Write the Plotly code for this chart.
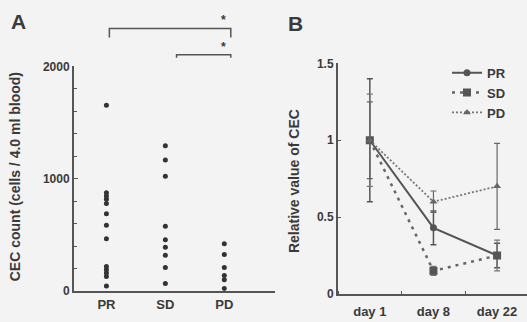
import plotly.graph_objects as go

# ---- Panel A data ----
groups_a = ["PR", "SD", "PD"]
pr_counts = [1654, 874, 846, 816, 779, 687, 586, 465, 219, 190, 162, 130, 46]
sd_counts = [1293, 1166, 1022, 577, 456, 390, 318, 210, 67]
pd_counts = [422, 326, 210, 139, 101, 23]

# ---- Panel B data ----
days = ["day 1", "day 8", "day 22"]
pr_rel = [1.0, 0.43, 0.25]
pr_err = [0.40, 0.11, 0.08]
sd_rel = [1.0, 0.15, 0.25]
sd_err = [0.30, 0.03, 0.10]
pd_rel = [1.0, 0.60, 0.70]
pd_err = [0.25, 0.07, 0.28]

BG = "#f3f3f3"
INK = "#3a3a3a"
LINE = "#555555"
FONT = "Liberation Sans"

W, H = 527, 322
def px(x):
    return x / W
def py(y):
    return 1 - y / H

fig = go.Figure()

# Panel A scatter
for i, vals in enumerate([pr_counts, sd_counts, pd_counts]):
    fig.add_trace(go.Scatter(
        x=[i + 1] * len(vals), y=vals, mode="markers",
        marker=dict(size=5, color="#333333"),
        xaxis="x", yaxis="y", showlegend=False, hoverinfo="y"))

# Panel B lines
xb = [1, 2, 3]
fig.add_trace(go.Scatter(
    x=xb, y=pr_rel, name="PR", mode="lines+markers",
    line=dict(color=LINE, width=2, dash="solid"),
    marker=dict(symbol="circle", size=7, color=LINE),
    error_y=dict(type="data", array=pr_err, color=LINE, thickness=1.5, width=3),
    xaxis="x2", yaxis="y2"))
fig.add_trace(go.Scatter(
    x=xb, y=sd_rel, name="SD", mode="lines+markers",
    line=dict(color="#666666", width=2.5, dash="3px,5px"),
    marker=dict(symbol="square", size=8, color="#555555"),
    error_y=dict(type="data", array=sd_err, color="#777777", thickness=1.2, width=3),
    xaxis="x2", yaxis="y2"))
fig.add_trace(go.Scatter(
    x=xb, y=pd_rel, name="PD", mode="lines+markers",
    line=dict(color="#777777", width=1.8, dash="2px,2px"),
    marker=dict(symbol="triangle-up", size=7, color="#666666"),
    error_y=dict(type="data", array=pd_err, color="#666666", thickness=1.2, width=3),
    xaxis="x2", yaxis="y2"))

line_common = dict(showgrid=False, zeroline=False, showline=True,
                   linecolor=LINE, linewidth=2, mirror=False)
tf12 = dict(family=FONT, size=12, color=INK, weight="bold")
tf13 = dict(family=FONT, size=13, color=INK, weight="bold")

fig.update_layout(
    width=W, height=H,
    margin=dict(l=0, r=0, t=0, b=0),
    paper_bgcolor=BG, plot_bgcolor=BG,
    font=dict(family=FONT, color=INK),
    xaxis=dict(domain=[px(74), px(275)], range=[0.45, 3.86],
               tickvals=[1, 2, 3], ticktext=groups_a, ticks="",
               anchor="y", tickfont=tf13, **line_common),
    yaxis=dict(domain=[py(297), py(62)], range=[0, 2000],
               tickvals=[0, 1000, 2000], ticks="inside", ticklen=4,
               tickcolor=LINE, anchor="x", tickfont=tf12,
               minor=dict(dtick=200, ticks="inside", ticklen=3, tickcolor=LINE),
               **line_common),
    xaxis2=dict(domain=[px(338), 1.0], range=[0.5, 3.47],
                tickvals=[1, 2, 3], ticktext=days, ticks="",
                ticklabelstandoff=4,
                minor=dict(tick0=0.5, dtick=1, ticks="inside", ticklen=3, tickcolor=LINE),
                anchor="y2", tickfont=tf13, **line_common),
    yaxis2=dict(domain=[py(300), py(59)], range=[0, 1.5],
                tickvals=[0, 0.5, 1, 1.5], ticktext=["0", "0.5", "1", "1.5"],
                ticks="inside", ticklen=3, tickcolor=LINE, anchor="x2",
                tickfont=tf12, **line_common),
    legend=dict(x=px(447), y=py(53), xanchor="left", yanchor="top",
                bgcolor="rgba(0,0,0,0)", font=tf13,
                itemwidth=30, tracegroupgap=0),
    showlegend=True,
)

# Axis titles and panel letters
fig.add_annotation(text="<b>CEC count (cells / 4.0 ml blood)</b>", textangle=-90,
                   x=px(15), y=py(178), xref="paper", yref="paper", showarrow=False,
                   xanchor="center", yanchor="middle",
                   font=dict(family=FONT, size=14, color=INK))
fig.add_annotation(text="<b>Relative value of CEC</b>", textangle=-90,
                   x=px(294), y=py(182), xref="paper", yref="paper", showarrow=False,
                   xanchor="center", yanchor="middle",
                   font=dict(family=FONT, size=14, color=INK))
fig.add_annotation(text="<b>A</b>", x=px(18), y=py(15), xref="paper", yref="paper",
                   xanchor="center", yanchor="middle",
                   showarrow=False, font=dict(family=FONT, size=21, color=INK))
fig.add_annotation(text="<b>B</b>", x=px(295), y=py(17), xref="paper", yref="paper",
                   xanchor="center", yanchor="middle",
                   showarrow=False, font=dict(family=FONT, size=21, color=INK))

# Significance brackets (PR–PD, SD–PD)
brackets = [(1, 3, 22.5, 32, 14), (2, 3, 50, 53, 42)]
for x0, x1, ytop, ybot, ystar in brackets:
    a, b = x0 + 0.05, x1 + 0.11
    if x0 == 2:
        a = x0 + 0.19
    fig.add_shape(type="path", xref="x", yref="paper",
                  path=f"M {a},{py(ybot)} L {a},{py(ytop)} L {b},{py(ytop)} L {b},{py(ybot)}",
                  line=dict(color="#555555", width=1.5))
    fig.add_annotation(text="<b>*</b>", x=2.99, y=py(ystar), xref="x", yref="paper",
                       xanchor="center", yanchor="middle",
                       showarrow=False, font=dict(family=FONT, size=12, color=INK))

fig.write_html("out.html", config={"displayModeBar": False},
               post_script="document.body.style.margin='0';document.body.style.overflow='hidden';")
